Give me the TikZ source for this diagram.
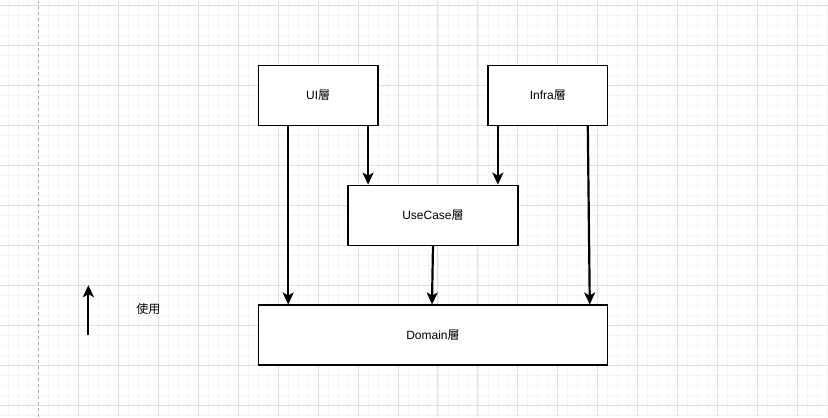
\documentclass[tikz,border=0pt]{standalone}
\usepackage{fontspec}
\setmainfont{Liberation Sans}
\newfontfamily\cjk{Noto Sans CJK JP}
\usetikzlibrary{arrows.meta}

\tikzset{
  layer/.style={draw, line width=1.3pt, fill=white, minimum width=120pt, minimum height=60pt, inner sep=0pt, font=\fontsize{12pt}{14pt}\selectfont},
  uses/.style={line width=2.2pt, -{Stealth[length=12pt 0, width=11pt 0, inset=3pt 0]}}
}

\begin{document}
\begin{tikzpicture}[x=1pt, y=-1pt]
		% background grid
		\fill[white] (0,0) rectangle (828,417);
		\foreach \x in {8,18,...,828} \draw[black!4, line width=0.8pt] (\x,0) -- (\x,417);
		\foreach \y in {5,15,...,417} \draw[black!4, line width=0.8pt] (0,\y) -- (828,\y);
		\foreach \x in {78,118,...,828} \draw[black!13, line width=1pt] (\x,0) -- (\x,417);
		\foreach \y in {5,45,...,417} \draw[black!13, line width=1pt] (0,\y) -- (828,\y);
		\draw[black!35, dashed, line width=1pt] (38,0) -- (38,417);
		\useasboundingbox (0,0) rectangle (828,417);

		\node[layer] (ui) at (318, 95) {UI{\cjk 層}};
		\node[layer] (infra) at (548, 95) {Infra{\cjk 層}};
		\node[layer, minimum width=170pt] (usecase) at (433, 215) {UseCase{\cjk 層}};
		\node[layer, minimum width=350pt] (domain) at (433, 335) {Domain{\cjk 層}};
                \draw[uses] ([xshift=-30pt]ui.south) -- ([xshift=-145pt]domain.north);
                \draw[uses] ([xshift=50pt]ui.south) -- ([xshift=-65pt]usecase.north);
                \draw[uses] ([xshift=-50pt]infra.south) -- ([xshift=65pt]usecase.north);
                \draw[uses] ([xshift=40pt]infra.south) -- ([xshift=157pt]domain.north);
                \draw[uses] (usecase.south) -- ([xshift=-1pt]domain.north);

		% legend
		\coordinate (legendfrom) at (88, 335);
		\coordinate (legendto) at (88, 285);
		\draw[uses] (legendfrom) -- (legendto);
		\node[font=\fontsize{12pt}{14pt}\selectfont\cjk] (legend) at (148, 309) {使用};
		\end{tikzpicture}
\end{document}
